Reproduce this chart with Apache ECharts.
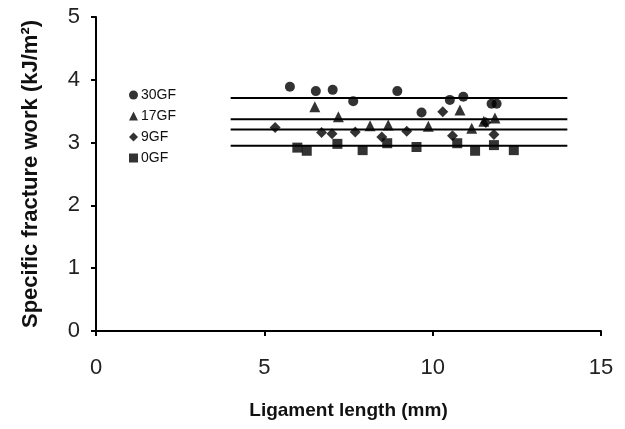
<!DOCTYPE html>
<html>
<head>
<meta charset="utf-8">
<script src="https://cdn.jsdelivr.net/npm/echarts@6/dist/echarts.min.js"></script>
<style>
  html, body { margin: 0; padding: 0; background: #fff; }
  #chart { width: 625px; height: 429px; }
</style>
</head>
<body>
<div id="chart"></div>
<script>
// ligament length (mm), specific fracture work (kJ/m2)
var gf30 = [[5.76, 3.89], [6.53, 3.82], [7.03, 3.84], [7.64, 3.66], [8.95, 3.82],
            [9.67, 3.48], [10.51, 3.68], [10.91, 3.73], [11.75, 3.62], [11.90, 3.62]];
var gf17 = [[6.50, 3.57], [7.20, 3.41], [8.14, 3.27], [8.68, 3.28], [9.87, 3.26],
            [10.81, 3.52], [11.16, 3.23], [11.52, 3.34], [11.85, 3.39]];
var gf9 = [[5.32, 3.24], [6.70, 3.16], [7.01, 3.14], [7.70, 3.17], [8.49, 3.09],
           [9.23, 3.18], [10.30, 3.49], [10.59, 3.11], [11.58, 3.32], [11.82, 3.13]];
var gf0 = [[5.98, 2.92], [6.26, 2.87], [7.17, 2.98], [7.92, 2.88], [8.65, 2.99],
           [9.52, 2.93], [10.73, 2.99], [11.26, 2.87], [11.82, 2.96], [12.41, 2.88]];

var names = ['30GF', '17GF', '9GF', '0GF'];
var symbols = ['circle', 'triangle', 'diamond', 'rect'];
var sizes = [10, 11, 11, 10];
var means = [3.71, 3.37, 3.21, 2.95];
var meanRange = [4, 14];

var chart = echarts.init(document.getElementById('chart'));
var font = 'Liberation Sans, Arial, sans-serif';

var series = [];
[gf30, gf17, gf9, gf0].forEach(function (d, i) {
    series.push({
        name: names[i],
        type: 'scatter',
        symbol: symbols[i],
        symbolSize: sizes[i],
        itemStyle: { color: '#000' },
        data: d,
        z: 3
    });
});
means.forEach(function (m) {
    series.push({
        type: 'line',
        symbol: 'none',
        silent: true,
        lineStyle: { color: '#000', width: 2 },
        data: [[meanRange[0], m], [meanRange[1], m]],
        z: 2
    });
});

chart.setOption({
    animation: false,
    backgroundColor: '#fff',
    textStyle: { fontFamily: font },
    grid: { left: 96, right: 24, top: 17, bottom: 98 },
    legend: {
        data: names.map(function (n, i) { return { name: n, icon: symbols[i] }; }),
        orient: 'vertical',
        left: 124,
        top: 83,
        itemWidth: 9,
        itemHeight: 9,
        itemGap: 7,
        textStyle: { fontFamily: font, fontSize: 14, color: '#111', padding: [0, 0, 0, -2] }
    },
    xAxis: {
        type: 'value',
        min: 0, max: 15, interval: 5,
        name: 'Ligament length (mm)',
        nameLocation: 'middle',
        nameGap: 70,
        nameTextStyle: { fontFamily: font, fontSize: 19, fontWeight: 'bold', color: '#111' },
        axisLine: { lineStyle: { color: '#000', width: 2 } },
        axisTick: { show: true, length: 5, lineStyle: { color: '#000', width: 2 } },
        axisLabel: { fontSize: 22, color: '#222', margin: 26 },
        splitLine: { show: false }
    },
    yAxis: {
        type: 'value',
        min: 0, max: 5, interval: 1,
        name: 'Specific fracture work (kJ/m²)',
        nameLocation: 'middle',
        nameGap: 54,
        nameTextStyle: { fontFamily: font, fontSize: 22, fontWeight: 'bold', color: '#111' },
        axisLine: { show: true, lineStyle: { color: '#000', width: 2 } },
        axisTick: { show: true, length: 5, lineStyle: { color: '#000', width: 2 } },
        axisLabel: { fontSize: 22, color: '#222', margin: 16 },
        splitLine: { show: false }
    },
    series: series
});
</script>
</body>
</html>
